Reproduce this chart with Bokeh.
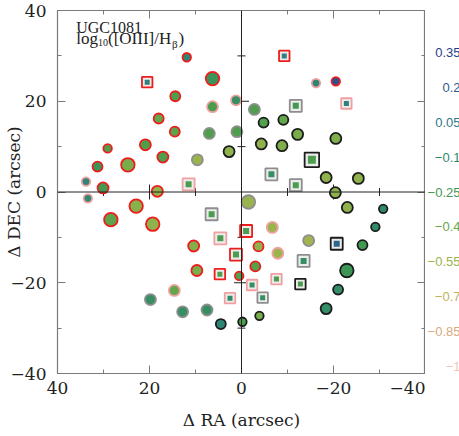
import numpy as np
from bokeh.plotting import figure
from bokeh.layouts import row
from bokeh.models import Range1d, FixedTicker, LinearAxis, Span, Label, ColumnDataSource
from bokeh.transform import linear_cmap, factor_cmap
from bokeh.core.properties import value
from bokeh.embed import file_html
from bokeh.resources import INLINE

# ---------------- data ----------------
# circles: offsets (arcsec), log10([OIII]/Hb), edge class, S/N class
c_x = [11.9, 6.3, 14.4, 6.3, 1.2, 18.0, 14.5, 7.0, 1.0, 20.9, 29.1, 2.7, 9.6, 17.1, 24.7, 31.3,
       33.8, 30.1, 18.3, 33.4, 22.9, 28.4, 19.3, 10.4, 9.7, 0.5, 14.6, 19.8, 12.8, 7.5, 4.5, -0.2,
       -3.9, -1.5, -20.4, -23.0, -30.8, -29.1, -6.7, -14.6, -26.3, -3.7, -7.9, -3.0, -22.9, -21.0,
       -18.4, -16.2, -20.5, -2.8, -4.8, -9.1, -12.2, -20.5, -4.3, -8.8, -18.4, -25.4]
c_y = [29.7, 25.0, 21.1, 18.8, 20.2, 16.2, 13.3, 12.9, 13.3, 10.4, 9.6, 8.9, 7.1, 7.7, 6.0, 5.6,
       2.3, 0.9, 0.15, -1.4, -3.1, -6.1, -7.1, -11.9, -17.3, -18.5, -21.7, -23.7, -26.4, -26.0, -29.1, -28.6,
       -27.3, -2.2, -0.15, -3.4, -3.7, -7.7, -7.8, -10.7, -11.7, -12.0, -13.5, -16.4, -17.3, -21.5,
       -25.7, 24.0, 24.4, 18.2, 15.3, 15.9, 12.7, 11.8, 10.6, 10.2, 3.2, 3.0]
c_v = [-0.05, -0.2, -0.3, -0.28, -0.15, -0.38, -0.35, -0.3, -0.3, -0.3, -0.3, -0.52, -0.55, -0.3, -0.45, -0.2,
       -0.05, -0.25, -0.53, -0.08, -0.5, -0.35, -0.52, -0.48, -0.45, -0.32, -0.38, -0.15, -0.15, -0.15, -0.05, -0.3,
       -0.45, -0.55, -0.52, -0.52, -0.08, -0.12, -0.55, -0.58, -0.25, -0.52, -0.57, -0.33, -0.22, -0.13,
       -0.13, -0.05, 0.25, -0.3, -0.32, -0.38, -0.45, -0.47, -0.52, -0.47, -0.52, -0.52]
c_edge = ['r', 'r', 'r', 'p', 'p', 'r', 'r', 'g', 'g', 'r', 'r', 'k', 'g', 'r', 'r', 'r',
          'p', 'r', 'r', 'p', 'r', 'r', 'r', 'r', 'r', 'r', 'p', 'g', 'g', 'g', 'k', 'k',
          'k', 'g', 'k', 'k', 'k', 'k', 'p', 'g', 'k', 'r', 'p', 'r', 'k', 'k',
          'k', 'p', 'r', 'g', 'k', 'k', 'k', 'k', 'k', 'k', 'k', 'k']
c_snr = [1, 4, 2, 3, 2, 2, 2, 3, 3, 3, 1, 3, 3, 3, 4, 2,
         1, 3, 3, 1, 4, 4, 4, 3, 3, 1, 3, 3, 3, 3, 2, 1,
         1, 4, 3, 3, 1, 1, 3, 3, 2, 2, 3, 2, 4, 2,
         3, 1, 1, 3, 2, 2, 3, 3, 3, 3, 3, 3]

# squares
s_x = [20.5, 11.5, 6.5, 4.6, 1.2, 4.7, 2.5, -11.8, -1.0, -20.7, -13.5, -7.6, -12.8, -2.3, -4.6, -9.3,
       -11.8, -22.8, -15.3, -6.5]
s_y = [24.2, 1.7, -4.9, -10.2, -13.8, -18.1, -23.4, 1.5, -8.6, -11.4, -15.2, -19.2, -20.3, -20.5, -23.3, 30.0,
       19.0, 19.5, 7.1, 3.9]
s_v = [0.0, -0.28, -0.28, -0.28, -0.28, -0.3, -0.12, -0.28, -0.28, 0.15, -0.15, -0.28, -0.28, -0.15, -0.15, 0.0,
       -0.25, 0.0, -0.3, -0.15]
s_edge = ['r', 'p', 'g', 'p', 'r', 'r', 'p', 'g', 'r', 'k', 'g', 'p', 'k', 'p', 'g', 'r',
          'g', 'p', 'k', 'g']
s_snr = [2, 3, 3, 3, 3, 2, 2, 3, 3, 3, 3, 2, 2, 2, 2, 2,
         3, 2, 4, 3]

cb_ticks = [0.35, 0.2, 0.05, -0.1, -0.25, -0.4, -0.55, -0.7, -0.85, -1.0]
major_ticks = [-40, -20, 0, 20, 40]
minor_ticks = [-30, -10, 10, 30]

# ---------------- styling ----------------
V_LOW, V_HIGH = -1.0, 0.5
anch_v = [-1.0, -0.85, -0.7, -0.55, -0.4, -0.25, -0.1, 0.05, 0.2, 0.35, 0.5]
anch_c = ["#f3c6bb", "#d9a87c", "#bfb25a", "#98b44c", "#68a84a", "#42994f",
          "#2f8a6c", "#2d7b86", "#2c5d90", "#283f8a", "#2a2470"]


def hex2rgb(h):
    return [int(h[i:i + 2], 16) for i in (1, 3, 5)]


rgb = np.array([hex2rgb(c) for c in anch_c], float)
grid = np.linspace(V_LOW, V_HIGH, 256)
palette = ['#%02x%02x%02x' % tuple(int(round(np.interp(g, anch_v, rgb[:, k]))) for k in range(3))
           for g in grid]

edge_factors = ['r', 'p', 'g', 'k']
edge_colors = ['#ee1d1d', '#f0a0a0', '#8e8e8e', '#1c1c1c']
circ_size = {1: 8.5, 2: 10, 3: 11, 4: 13.5}
sq_outer = {2: 10.5, 3: 12, 4: 14.5}
sq_inner = {2: 5, 3: 6, 4: 8}

SERIF = "DejaVu Serif"
FRAME_W, FRAME_H = 368, 363
TOP, LEFT, BOTTOM = 10, 54, 59
H = TOP + FRAME_H + BOTTOM

p = figure(frame_width=FRAME_W, frame_height=FRAME_H, x_range=Range1d(40, -40), y_range=Range1d(-40, 40),
           output_backend="svg", toolbar_location=None,
           min_border_left=LEFT, min_border_right=0, min_border_top=TOP, min_border_bottom=BOTTOM)
p.grid.visible = False
p.outline_line_color = "#7a7a7a"
p.outline_line_width = 1.2

overrides = {t: ("−%d" % abs(t) if t < 0 else "%d" % t) for t in major_ticks}


def style_axis(ax, labels=True):
    ax.ticker = FixedTicker(ticks=major_ticks, minor_ticks=minor_ticks)
    ax.axis_line_color = None
    ax.major_tick_in = 8
    ax.major_tick_out = 0
    ax.minor_tick_in = 4
    ax.minor_tick_out = 0
    ax.major_tick_line_color = "#7a7a7a"
    ax.minor_tick_line_color = "#7a7a7a"
    if labels:
        ax.major_label_overrides = overrides
        ax.major_label_text_font = SERIF
        ax.major_label_text_font_size = "17px"
        ax.major_label_text_color = "#222222"
        ax.axis_label_text_font = SERIF
        ax.axis_label_text_font_size = "17px"
        ax.axis_label_text_font_style = "normal"
        ax.axis_label_text_color = "#222222"
    else:
        ax.major_label_text_font_size = "0px"
        ax.major_label_text_color = None
        ax.major_label_standoff = 0


style_axis(p.xaxis[0])
style_axis(p.yaxis[0])
p.xaxis[0].major_label_standoff = 8
p.yaxis[0].major_label_standoff = 11
p.xaxis[0].axis_label = "Δ RA (arcsec)"
p.xaxis[0].axis_label_standoff = 13
p.yaxis[0].axis_label = "Δ DEC (arcsec)"
p.yaxis[0].axis_label_standoff = -16
ax_r = LinearAxis()
style_axis(ax_r, labels=False)
p.add_layout(ax_r, "right")
ax_t = LinearAxis()
style_axis(ax_t, labels=False)
p.add_layout(ax_t, "above")

# zero lines with crossing ticks
p.add_layout(Span(location=0, dimension="height", line_color="#222222", line_width=1))
p.add_layout(Span(location=0, dimension="width", line_color="#222222", line_width=1))
zt_major = [t for t in major_ticks if t not in (0, 40, -40)]
p.scatter(x=zt_major, y=[0] * len(zt_major), marker="dash", angle=np.pi / 2, size=15,
          line_color="#222222", line_width=1)
p.scatter(x=minor_ticks, y=[0] * len(minor_ticks), marker="dash", angle=np.pi / 2, size=8,
          line_color="#222222", line_width=1)
p.scatter(x=[0] * len(zt_major), y=zt_major, marker="dash", size=15, line_color="#222222", line_width=1)
p.scatter(x=[0] * len(minor_ticks), y=minor_ticks, marker="dash", size=8, line_color="#222222", line_width=1)

cmap = linear_cmap("v", palette, V_LOW, V_HIGH)
ecmap = factor_cmap("edge", edge_colors, edge_factors)

# squares
src_s = ColumnDataSource(dict(x=s_x, y=s_y, v=s_v, edge=s_edge,
                              so=[sq_outer[s] for s in s_snr], si=[sq_inner[s] for s in s_snr]))
p.scatter("x", "y", source=src_s, marker="square", size="so", fill_color="#ececec",
          line_color=ecmap, line_width=1.8)
p.scatter("x", "y", source=src_s, marker="square", size="si", fill_color=cmap, line_color=None)

# circles
src_c = ColumnDataSource(dict(x=c_x, y=c_y, v=c_v, edge=c_edge, sz=[circ_size[s] for s in c_snr]))
p.scatter("x", "y", source=src_c, marker="circle", size="sz", fill_color=cmap,
          line_color=ecmap, line_width=1.8)

# top-left annotation
TB = "Liberation Serif"
pieces = [("UGC1081", 18.7, -16.7, "16px"),
          ("log", 18.7, -28.3, "17px"),
          ("10", 40.5, -32.3, "10px"),
          ("([OIII]/H", 50.5, -28.3, "17px"),
          ("β", 114.5, -33.3, "11px"),
          (")", 121.0, -28.3, "17px")]
for txt, xo, yo, fs in pieces:
    p.add_layout(Label(x=40, y=40, x_offset=xo, y_offset=yo, text=txt, text_align="left",
                       text_baseline="alphabetic", text_font=TB, text_font_size=fs, text_color="#222222"))

# colour-scale labels (right strip sharing the vertical placement of the frame)
pad_top = (TOP - 3) / (FRAME_H / (V_HIGH - V_LOW))
pad_bot = 7 / (FRAME_H / (V_HIGH - V_LOW))
side = figure(width=35, height=H, x_range=Range1d(0, 1),
              y_range=Range1d(V_LOW - pad_bot, V_HIGH + pad_top),
              output_backend="svg", toolbar_location=None,
              min_border_left=0, min_border_right=0, min_border_top=3, min_border_bottom=BOTTOM - 7)
side.axis.visible = False
side.grid.visible = False
side.outline_line_color = None
cb_src = ColumnDataSource(dict(x=[1.0] * len(cb_ticks), v=cb_ticks,
                               t=[("%g" % t).replace("-", "−") for t in cb_ticks]))
side.text("x", "v", text="t", source=cb_src, text_align="right", text_baseline="middle",
          text_font=value("Liberation Sans"), text_font_size="13px",
          text_color=linear_cmap("v", palette, V_LOW, V_HIGH))

layout = row(p, side)
open("out.html", "w").write(file_html(layout, INLINE))
